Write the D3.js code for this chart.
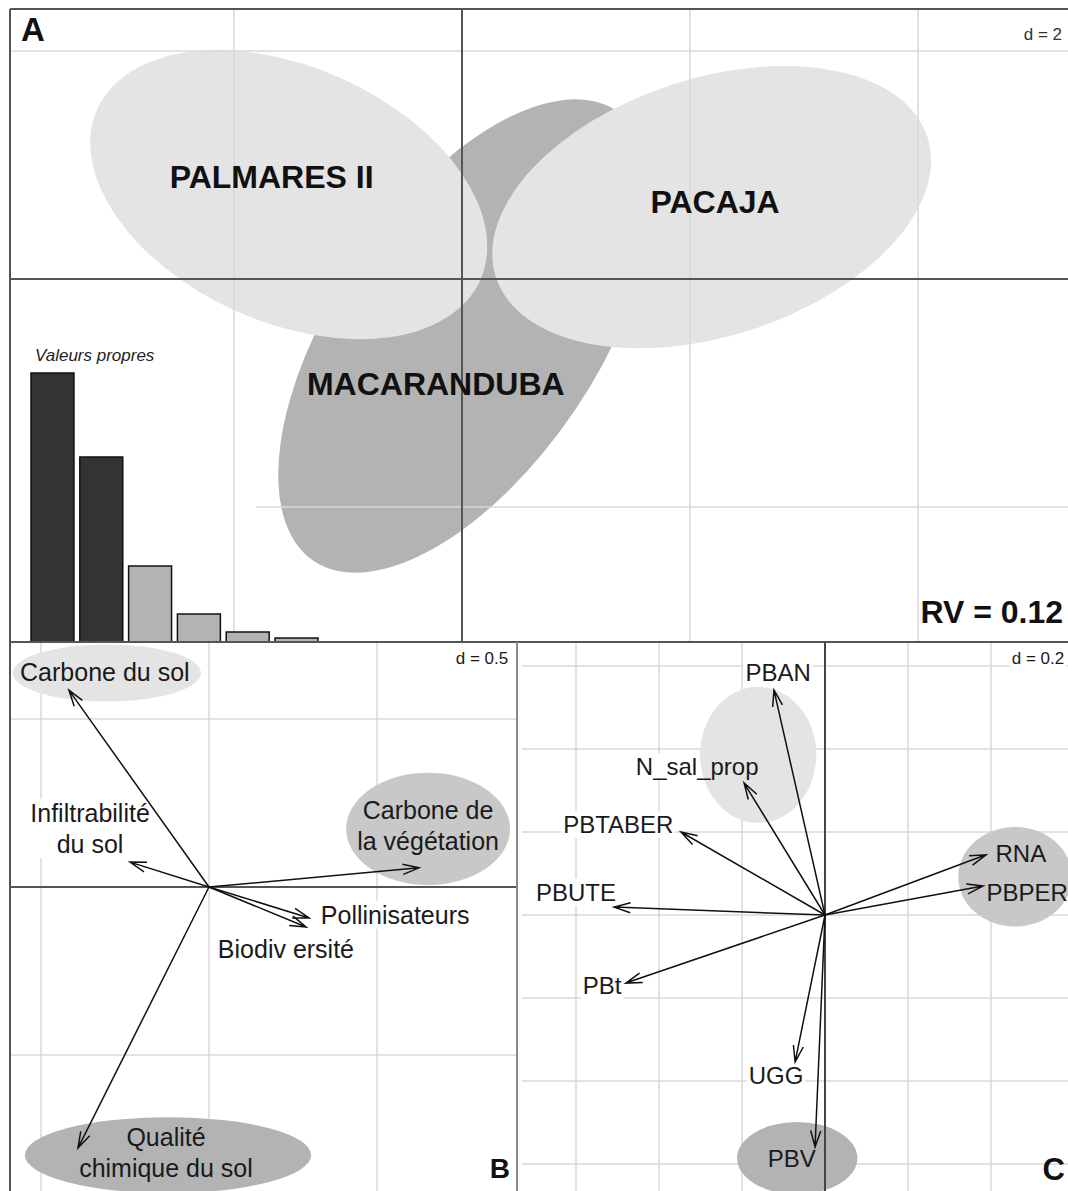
<!DOCTYPE html>
<html>
<head>
<meta charset="utf-8">
<script src="https://cdn.jsdelivr.net/npm/d3@7"></script>
<style>
body{margin:0;background:#fff;}
svg{display:block;font-family:"Liberation Sans",Arial,sans-serif;}
</style>
</head>
<body>
<svg width="1068" height="1191"></svg>
<script>
// ---- panel A : sites (class ellipses, d = 2)
var sites=["PALMARES II","PACAJA","MACARANDUBA"];
var siteCx=[-1.52,2.19,0.03];
var siteCy=[0.74,0.63,-0.50];
var siteA=[1.84,1.99,2.38];
var siteB=[1.12,1.13,1.16];
var siteAngle=[-24,18,56];
var siteLabX=[-1.67,2.22,-0.23];
var siteLabY=[0.90,0.68,-0.92];

// eigenvalues inset
var eigenvalues=[2.69,1.85,0.76,0.28,0.10,0.04];
var keptAxes=2;
var rvText="RV = 0.12";

// ---- panel B : services (d = 0.5)
var bLabels=[["Carbone du sol"],["Infiltrabilité","du sol"],["Carbone de","la végétation"],["Pollinisateurs"],["Biodiv ersité"],["Qualité","chimique du sol"]];
var bX=[-0.417,-0.235,0.625,0.298,0.289,-0.390];
var bY=[0.586,0.074,0.057,-0.092,-0.119,-0.777];
var bLabX=[-0.310,-0.354,0.652,0.554,0.229,-0.128];
var bLabY=[0.640,0.173,0.183,-0.083,-0.185,-0.792];
var bGroups=["sol","vegetation","chimie"];
var bGroupX=[-0.304,0.652,-0.122];
var bGroupY=[0.637,0.173,-0.798];
var bGroupRx=[0.280,0.244,0.426];
var bGroupRy=[0.085,0.167,0.113];

// ---- panel C : parcels (d = 0.2)
var cLabels=["PBAN","N_sal_prop","PBTABER","PBUTE","RNA","PBPER","PBt","UGG","PBV"];
var cX=[-0.123,-0.195,-0.347,-0.508,0.388,0.381,-0.480,-0.072,-0.024];
var cY=[0.542,0.318,0.200,0.019,0.145,0.070,-0.164,-0.354,-0.559];
var cLabX=[-0.113,-0.308,-0.498,-0.600,0.472,0.487,-0.537,-0.118,-0.080];
var cLabY=[0.583,0.357,0.217,0.055,0.149,0.055,-0.171,-0.386,-0.588];
var cGroups=["nord","est","sud"];
var cGroupX=[-0.161,0.458,-0.067];
var cGroupY=[0.386,0.092,-0.586];
var cGroupRx=[0.140,0.137,0.145];
var cGroupRy=[0.164,0.120,0.087];

var svg=d3.select('svg');

function clipGroup(id,x,y,w,h){
    svg.append('clipPath').attr('id',id).append('rect')
    .attr('x',x).attr('y',y).attr('width',w).attr('height',h);
    return svg.append('g').attr('clip-path','url(#'+id+')');
}

function gridV(g,vals,xs,y0,y1){
    vals.forEach(function(v){
        g.append('line').attr('x1',xs(v)).attr('x2',xs(v)).attr('y1',y0).attr('y2',y1)
        .attr('stroke','#d9d9d9').attr('stroke-width',1.5);
    });
}
function gridH(g,vals,ys,x0,x1){
    vals.forEach(function(v){
        g.append('line').attr('x1',x0).attr('x2',x1).attr('y1',ys(v)).attr('y2',ys(v))
        .attr('stroke','#d9d9d9').attr('stroke-width',1.5);
    });
}

function drawArrow(g,x1,y1,x2,y2){
    var ang=Math.atan2(y2-y1,x2-x1),len=17,sp=0.3;
    var p=d3.path();
    p.moveTo(x1,y1);p.lineTo(x2,y2);
    p.moveTo(x2-len*Math.cos(ang-sp),y2-len*Math.sin(ang-sp));
    p.lineTo(x2,y2);
    p.lineTo(x2-len*Math.cos(ang+sp),y2-len*Math.sin(ang+sp));
    g.append('path').attr('d',p.toString()).attr('fill','none')
    .attr('stroke','#111').attr('stroke-width',1.5);
}

function boxedText(boxLayer,textLayer,lines,cx,cy,size,lineH){
    var t=textLayer.append('text').attr('text-anchor','middle')
    .attr('font-size',size).attr('fill','#1a1a1a');
    lines.forEach(function(l,i){
        t.append('tspan').attr('x',cx).attr('y',cy+(i-(lines.length-1)/2)*lineH)
        .attr('dy','0.35em').text(l);
    });
    var bb=t.node().getBBox();
    boxLayer.append('rect').attr('x',bb.x-2).attr('y',bb.y).attr('width',bb.width+4)
    .attr('height',bb.height).attr('fill','#fff');
}

// ================= PANEL A =================
var xA=d3.scaleLinear().domain([0,1]).range([462,576]);
var yA=d3.scaleLinear().domain([0,1]).range([279,165]);
var gA=clipGroup('clipA',10,9,1058,633);
var siteColor=d3.scaleOrdinal().domain(sites).range(["#e4e4e4","#e4e4e4","#b3b3b3"]);

var order=[2,0,1];
order.forEach(function(i){
    gA.append('ellipse')
    .attr('cx',0).attr('cy',0)
    .attr('rx',xA(siteA[i])-xA(0))
    .attr('ry',xA(siteB[i])-xA(0))
    .attr('transform','translate('+xA(siteCx[i])+','+yA(siteCy[i])+') rotate('+(-siteAngle[i])+')')
    .style('fill',siteColor(sites[i]));
});

var gridA=d3.range(-6,7,2);
gridH(gA,gridA.filter(function(v){return v!==0&&v>-2;}),yA,10,1068);
gridH(gA,[-2],yA,256,1068);

// eigenvalue inset background
gA.append('rect').attr('x',10).attr('y',330).attr('width',246).attr('height',312).attr('fill','#fff');
gridV(gA,gridA.filter(function(v){return v!==0;}),xA,9,642);

// axes
gA.append('line').attr('x1',10).attr('x2',1068).attr('y1',yA(0)).attr('y2',yA(0))
.attr('stroke','#555').attr('stroke-width',2);
gA.append('line').attr('x1',xA(0)).attr('x2',xA(0)).attr('y1',9).attr('y2',642)
.attr('stroke','#555').attr('stroke-width',2);

sites.forEach(function(s,i){
    gA.append('text').attr('x',xA(siteLabX[i])).attr('y',yA(siteLabY[i])).attr('dy','0.35em')
    .attr('text-anchor','middle').attr('font-size',32).attr('font-weight','bold')
    .attr('fill','#111').text(s);
});

// eigenvalue bars
var eigX=d3.scaleBand().domain(d3.range(eigenvalues.length)).range([31,318]).paddingInner(0.12);
var eigY=d3.scaleLinear().domain([0,d3.max(eigenvalues)]).range([642,373]);
gA.selectAll('rect.eig').data(eigenvalues).enter().append('rect')
.attr('class','eig')
.attr('x',function(d,i){return eigX(i);})
.attr('y',function(d){return eigY(d);})
.attr('width',eigX.bandwidth())
.attr('height',function(d){return eigY(0)-eigY(d);})
.style('fill',function(d,i){return i<keptAxes?'#333':'#b3b3b3';})
.attr('stroke','#111').attr('stroke-width',1.5);
gA.append('text').attr('x',35).attr('y',361).attr('font-size',17).attr('font-style','italic')
.attr('fill','#222').text('Valeurs propres');

gA.append('text').attr('x',21).attr('y',41).attr('font-size',33).attr('font-weight','bold')
.attr('fill','#111').text('A');
gA.append('text').attr('x',1062).attr('y',40).attr('font-size',17).attr('text-anchor','end')
.attr('fill','#333').text('d = 2');
gA.append('text').attr('x',1063).attr('y',623).attr('font-size',32).attr('font-weight','bold')
.attr('text-anchor','end').attr('fill','#111').text(rvText);

// ================= PANEL B =================
var xB=d3.scaleLinear().domain([0,1]).range([209,545]);
var yB=d3.scaleLinear().domain([0,1]).range([887,551]);
var gB=clipGroup('clipB',10,642,507,549);
var gBgrid=gB.append('g'),gBbox=gB.append('g'),gBell=gB.append('g'),gBaxis=gB.append('g'),gBtext=gB.append('g'),gBarr=gB.append('g');
var gridB=d3.range(-1.5,1.6,0.5);
gridV(gBgrid,gridB,xB,642,1191);
gridH(gBgrid,gridB.filter(function(v){return v!==0;}),yB,10,517);
var bColor=d3.scaleOrdinal().domain(bGroups).range(["#e4e4e4","#c8c8c8","#b3b3b3"]);
bGroups.forEach(function(gname,i){
    gBell.append('ellipse')
    .attr('cx',xB(bGroupX[i])).attr('cy',yB(bGroupY[i]))
    .attr('rx',xB(bGroupRx[i])-xB(0)).attr('ry',xB(bGroupRy[i])-xB(0))
    .style('fill',bColor(gname));
});
gBaxis.append('line').attr('x1',10).attr('x2',517).attr('y1',yB(0)).attr('y2',yB(0))
.attr('stroke','#555').attr('stroke-width',2);
bLabels.forEach(function(lines,i){
    boxedText(gBbox,gBtext,lines,xB(bLabX[i]),yB(bLabY[i]),25,31);
    drawArrow(gBarr,xB(0),yB(0),xB(bX[i]),yB(bY[i]));
});
boxedText(gBbox,gBtext,['d = 0.5'],482,658,17,20);
gBtext.append('text').attr('x',510).attr('y',1178).attr('text-anchor','end')
.attr('font-size',28).attr('font-weight','bold').attr('fill','#111').text('B');

// ================= PANEL C =================
var xC=d3.scaleLinear().domain([0,1]).range([825,1240]);
var yC=d3.scaleLinear().domain([0,1]).range([915,500]);
var gC=clipGroup('clipC',517,642,551,549);
var gCgrid=gC.append('g'),gCbox=gC.append('g'),gCell=gC.append('g'),gCaxis=gC.append('g'),gCtext=gC.append('g'),gCarr=gC.append('g');
var gridC=d3.range(-0.6,0.61,0.2);
gridV(gCgrid,gridC.filter(function(v){return Math.abs(v)>1e-9;}),xC,642,1191);
gridH(gCgrid,gridC,yC,522,1068);
var cColor=d3.scaleOrdinal().domain(cGroups).range(["#e4e4e4","#c8c8c8","#b3b3b3"]);
cGroups.forEach(function(gname,i){
    gCell.append('ellipse')
    .attr('cx',xC(cGroupX[i])).attr('cy',yC(cGroupY[i]))
    .attr('rx',xC(cGroupRx[i])-xC(0)).attr('ry',xC(cGroupRy[i])-xC(0))
    .style('fill',cColor(gname));
});
gCaxis.append('line').attr('x1',xC(0)).attr('x2',xC(0)).attr('y1',642).attr('y2',1191)
.attr('stroke','#444').attr('stroke-width',2);
cLabels.forEach(function(l,i){
    boxedText(gCbox,gCtext,[l],xC(cLabX[i]),yC(cLabY[i]),24,30);
    drawArrow(gCarr,xC(0),yC(0),xC(cX[i]),yC(cY[i]));
});
boxedText(gCbox,gCtext,['d = 0.2'],1038,658,17,20);
gCtext.append('text').attr('x',1065).attr('y',1180).attr('text-anchor','end')
.attr('font-size',31).attr('font-weight','bold').attr('fill','#111').text('C');

// ---- frames
svg.append('line').attr('x1',10).attr('x2',1068).attr('y1',9).attr('y2',9).attr('stroke','#555').attr('stroke-width',2);
svg.append('line').attr('x1',10).attr('x2',10).attr('y1',9).attr('y2',1191).attr('stroke','#555').attr('stroke-width',2);
svg.append('line').attr('x1',10).attr('x2',1068).attr('y1',642).attr('y2',642).attr('stroke','#555').attr('stroke-width',2);
svg.append('line').attr('x1',517).attr('x2',517).attr('y1',642).attr('y2',1191).attr('stroke','#8a8a8a').attr('stroke-width',2);
</script>
</body>
</html>
